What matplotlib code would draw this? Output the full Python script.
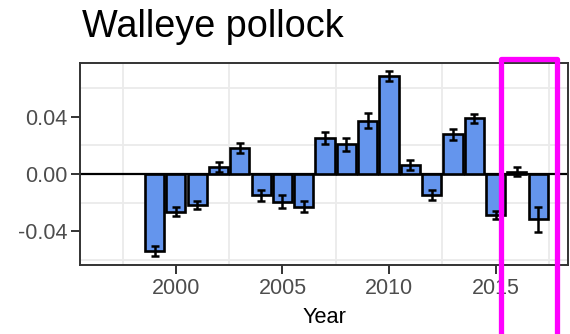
import matplotlib
matplotlib.use("Agg")
import matplotlib.pyplot as plt
import matplotlib.transforms as mtransforms
from matplotlib.patches import Rectangle

plt.rcParams['font.family'] = ['Liberation Sans', 'DejaVu Sans']

title = "Walleye pollock"
years = [1999, 2000, 2001, 2002, 2003, 2004, 2005, 2006, 2007, 2008,
         2009, 2010, 2011, 2012, 2013, 2014, 2015, 2016, 2017]
values = [-0.0538, -0.0263, -0.0217, 0.0047, 0.0184, -0.0149, -0.0193,
          -0.0228, 0.0250, 0.0208, 0.0373, 0.0688, 0.0063, -0.0147,
          0.0277, 0.0390, -0.0287, 0.0016, -0.0317]
errors = [0.0035, 0.0030, 0.0030, 0.0035, 0.0036, 0.0040, 0.0043,
          0.0040, 0.0042, 0.0045, 0.0050, 0.0035, 0.0037, 0.0033,
          0.0038, 0.0030, 0.0030, 0.0030, 0.0087]
x_ticks = [2000, 2005, 2010, 2015]
y_ticks = [-0.04, 0.00, 0.04]
y_ticklabels = ["-0.04", "0.00", "0.04"]
highlight_span = (2015.25, 2017.9)

fig = plt.figure(figsize=(5.70, 3.34), dpi=100)
ax = fig.add_axes([80 / 570, 1 - 265 / 334, 488 / 570, 202.3 / 334])

ax.bar(years, values, width=0.9, color='#6495ED', edgecolor='black',
       linewidth=1.9, zorder=3)
ax.errorbar(years, values, yerr=errors, fmt='none', ecolor='black',
            elinewidth=1.8, capsize=3, capthick=1.8, zorder=4)
ax.axhline(0, color='black', linewidth=1.6, zorder=2)

ax.set_xlim(1995.5, 2018.4)
ax.set_ylim(-0.0636, 0.0778)
ax.set_xticks(x_ticks)
ax.set_xticks([1997.5, 2002.5, 2007.5, 2012.5, 2017.5], minor=True)
ax.set_yticks(y_ticks)
ax.set_yticklabels(y_ticklabels)
ax.set_yticks([-0.06, -0.02, 0.02, 0.06], minor=True)
ax.grid(which='minor', color='#EBEBEB', linewidth=1.3, zorder=0)
ax.grid(which='major', visible=False)
ax.set_axisbelow(True)

ax.tick_params(which='major', length=6.5, width=1.4, color='#333333',
               labelsize=15.5, labelcolor='#4D4D4D', pad=2.5)
ax.tick_params(which='minor', length=0)
for sp in ax.spines.values():
    sp.set_color('#333333')
    sp.set_linewidth(1.4)

ax.set_xlabel("Year", fontsize=15.7, color='black', labelpad=6)
fig.text(82 / 570, 1 - 37 / 334, title, fontsize=27.3, color='black',
         ha='left', va='baseline')

# highlight frame around the last two years, running off the bottom edge
trans = mtransforms.blended_transform_factory(ax.transData, fig.transFigure)
frame = Rectangle((highlight_span[0], -0.2),
                  highlight_span[1] - highlight_span[0], 1.2 - 59 / 334,
                  transform=trans, fill=False, edgecolor='#FF00FF',
                  linewidth=3.8, joinstyle='round', clip_on=False, zorder=10)
fig.add_artist(frame)

fig.savefig("out.png", dpi=100)
